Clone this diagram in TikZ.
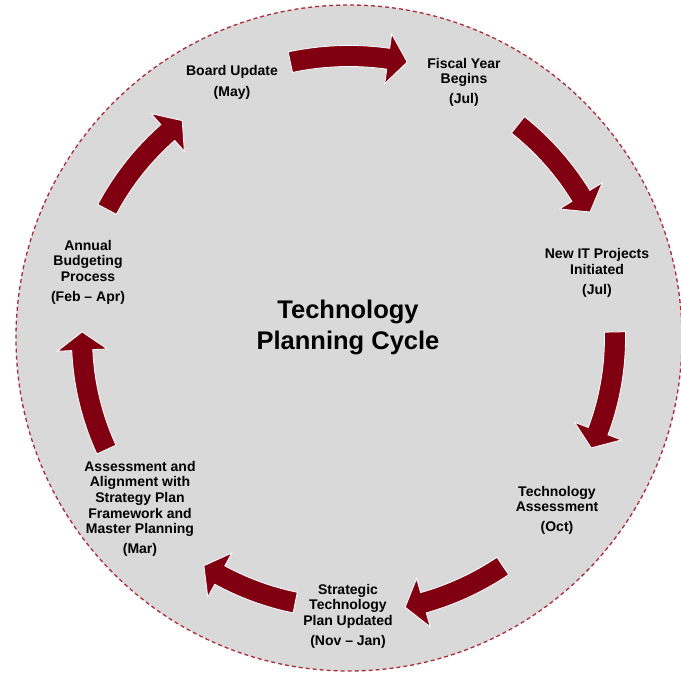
\documentclass[tikz,border=0pt]{standalone}
\usepackage{fontspec}
\setmainfont{Liberation Sans}
\definecolor{discgray}{RGB}{217,217,217}
\definecolor{arrowred}{RGB}{128,0,17}
\definecolor{rimred}{RGB}{168,44,60}

% Curved block arrow running clockwise around the centre.
% #1 tail angle, #2 tip angle, #3 radius of the centre line (pt)
\newcommand{\cyclearrow}[3]{%
  \pgfmathsetmacro\headbase{#2+3.9}%
  \pgfmathsetmacro\shaftout{#3+10.5}%
  \pgfmathsetmacro\shaftin{#3-10.5}%
  \pgfmathsetmacro\headout{#3+25}%
  \pgfmathsetmacro\headin{#3-25}%
  \fill[blockarrow] (#1:\shaftout pt)
    arc[start angle=#1, end angle=\headbase, radius=\shaftout pt]
    -- (\headbase:\headout pt) -- (#2:#3pt) -- (\headbase:\headin pt)
    -- (\headbase:\shaftin pt)
    arc[start angle=\headbase, end angle=#1, radius=\shaftin pt] -- cycle;
}

\tikzset{
  blockarrow/.style={fill=arrowred, draw=white, line width=0.8pt, line join=miter},
  stage/.style={align=center, inner sep=0pt, text=black,
    font=\fontsize{14}{15.6}\selectfont\bfseries},
  heading/.style={align=center, inner sep=0pt, text=black,
    font=\fontsize{25.5}{31.5}\selectfont\bfseries},
}

\begin{document}
\begin{tikzpicture}[x=1pt, y=1pt]
  \useasboundingbox (-349,-339) rectangle (332,338);

  % disc with dashed rim
  \fill[discgray] (0,0) circle[radius=333pt];
  \draw[rimred, line width=1.3pt, dash pattern=on 4pt off 3pt] (0,0) circle[radius=333pt];

  % cycle arrows
  \cyclearrow{102}{78.1}{282}
  \cyclearrow{51.6}{27.6}{272}
  \cyclearrow{1.3}{-24.4}{266}
  \cyclearrow{-56}{-78.2}{275}
  \cyclearrow{-101.5}{-122.5}{270}
  \cyclearrow{204.7}{178.7}{267}
  \cyclearrow{152}{127.5}{274}

  % title
  \node[heading] (title) at (-1,10.5) {Technology\\Planning Cycle};

  % stages
  \node[stage] (board)   at (-117,255.6) {Board Update\\[4.5pt](May)};
  \node[stage] (fiscal)  at (115,255.6)  {Fiscal Year\\Begins\\[4.5pt](Jul)};
  \node[stage] (newit)   at (248,65)     {New IT Projects\\Initiated\\[4.5pt](Jul)};
  \node[stage] (assess)  at (208,-172.4) {Technology\\Assessment\\[4.5pt](Oct)};
  \node[stage] (plan)    at (-1,-278.4)  {Strategic\\Technology\\Plan Updated\\[4.5pt](Nov – Jan)};
  \node[stage] (align)   at (-209,-171)  {Assessment and\\Alignment with\\Strategy Plan\\Framework and\\Master Planning\\[4.5pt](Mar)};
  \node[stage] (budget)  at (-261,65.6)  {Annual\\Budgeting\\Process\\[4.5pt](Feb – Apr)};
\end{tikzpicture}
\end{document}
